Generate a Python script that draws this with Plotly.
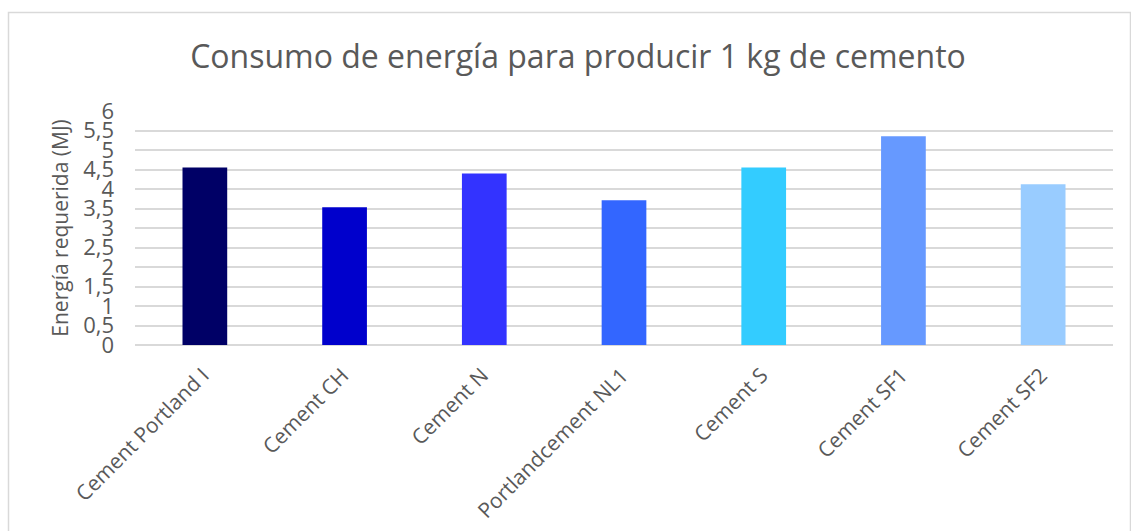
import plotly.graph_objects as go

# Energy consumption per kg of cement, by cement type
categories = ["Cement Portland I", "Cement CH", "Cement N", "Portlandcement NL1",
              "Cement S", "Cement SF1", "Cement SF2"]
energy_mj = [4.55, 3.53, 4.40, 3.71, 4.55, 5.35, 4.12]
bar_colors = ["#000066", "#0000CC", "#3333FF", "#3366FF", "#33CCFF", "#6699FF", "#99CCFF"]

tick_vals = [0, 0.5, 1, 1.5, 2, 2.5, 3, 3.5, 4, 4.5, 5, 5.5, 6]
tick_text = ["0", "0,5", "1", "1,5", "2", "2,5", "3", "3,5", "4", "4,5", "5", "5,5", "6"]

W, H = 1131, 531
L, R, T, B = 135, 18, 110.5, 186.3
pw, ph = W - L - R, H - T - B

text_color = "#595959"
font_family = "Open Sans, DejaVu Sans, sans-serif"

fig = go.Figure(
    go.Bar(
        x=categories,
        y=energy_mj,
        marker=dict(color=bar_colors, line=dict(width=0)),
        width=0.32,
    )
)

def px_x(p):
    return (p - L) / pw

def px_y(p):
    return (H - B - p) / ph

fig.update_layout(
    width=W,
    height=H,
    margin=dict(l=L, r=R, t=T, b=B, autoexpand=False),
    paper_bgcolor="white",
    plot_bgcolor="white",
    showlegend=False,
    font=dict(family=font_family, color=text_color),
    title=dict(
        text="Consumo de energía para producir 1 kg de cemento",
        x=578 / W,
        xanchor="center",
        y=1 - 57 / H,
        yanchor="middle",
        font=dict(size=32, color=text_color, family=font_family),
    ),
    bargap=0.68,
    shapes=[
        dict(
            type="rect",
            xref="paper", yref="paper",
            x0=px_x(8.5), x1=px_x(1130.5),
            y0=px_y(545), y1=px_y(12),
            line=dict(color="#d9d9d9", width=1.5),
            fillcolor="rgba(0,0,0,0)",
            layer="below",
        )
    ],
)

fig.update_xaxes(
    tickangle=-45,
    tickfont=dict(size=21, color=text_color),
    showgrid=False,
    showline=False,
    ticks="",
    ticklabelshift=-2,
    ticklabelstandoff=13,
    automargin=False,
)

fig.update_yaxes(
    range=[0, 6],
    tickvals=tick_vals,
    ticktext=tick_text,
    tickfont=dict(size=22, color=text_color),
    showgrid=True,
    gridcolor="#d9d9d9",
    gridwidth=1.5,
    zeroline=True,
    zerolinecolor="#d9d9d9",
    zerolinewidth=1.5,
    showline=False,
    ticks="",
    ticklabelstandoff=20,
    automargin=False,
    title=dict(
        text="Energía requerida (MJ)",
        font=dict(size=21, color=text_color),
        standoff=8,
    ),
)

fig.write_html("out.html")
